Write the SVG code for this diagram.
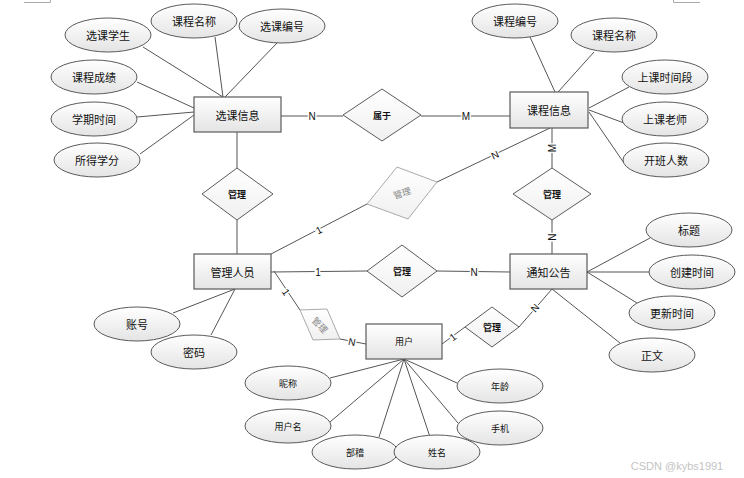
<svg xmlns="http://www.w3.org/2000/svg" width="744" height="478" viewBox="0 0 744 478">
<defs>
<linearGradient id="gf" x1="0" y1="0" x2="0" y2="1">
<stop offset="0" stop-color="#ffffff"/>
<stop offset="1" stop-color="#e4e4e4"/>
</linearGradient>
<linearGradient id="gd" x1="0" y1="0" x2="0" y2="1">
<stop offset="0" stop-color="#ffffff"/>
<stop offset="1" stop-color="#f0f0f0"/>
</linearGradient>
</defs>
<style>
text{font-family:"Noto Sans CJK SC","Liberation Sans",sans-serif;text-anchor:middle;dominant-baseline:central;fill:#111}
.ent rect{fill:url(#gf);stroke:#5a5a5a;stroke-width:1.2}
.att ellipse{fill:url(#gf);stroke:#5a5a5a;stroke-width:1}
.rel polygon{fill:url(#gd);stroke:#5a5a5a;stroke-width:1}
.grel polygon{fill:url(#gd);stroke:#aaaaaa;stroke-width:1}
.t1{font-size:11px}
.t2{font-size:9px;font-weight:bold}
.t3{font-size:9px}
.tg{font-size:9px;fill:#888}
#connectors line,#connectors polyline{stroke:#555;stroke-width:1;fill:none}
.lbl{font-family:"Liberation Sans",sans-serif;font-size:10px;fill:#111;stroke:#fff;stroke-width:3;paint-order:stroke}
.mark{stroke:#aaa;stroke-width:1;fill:none}
</style>
<rect x="0" y="0" width="744" height="478" fill="#ffffff"/>
<path class="mark" d="M24 2.5H50.5V0"/>
<path class="mark" d="M700 2.5H673.5V0"/>

<g id="connectors">
<line x1="143" y1="47" x2="223" y2="97"/>
<line x1="215" y1="37" x2="223" y2="97"/>
<line x1="277" y1="43" x2="225" y2="97"/>
<line x1="137" y1="82" x2="194" y2="108"/>
<line x1="137" y1="117" x2="194" y2="112"/>
<line x1="140" y1="154" x2="194" y2="115"/>
<line x1="530" y1="37" x2="555" y2="92"/>
<line x1="594" y1="52" x2="558" y2="92"/>
<line x1="629" y1="87" x2="589" y2="108"/>
<line x1="624" y1="123" x2="589" y2="110"/>
<line x1="624" y1="163" x2="589" y2="112"/>
<line x1="235" y1="289" x2="173" y2="313"/>
<line x1="235" y1="289" x2="211" y2="335"/>
<line x1="587" y1="272" x2="650" y2="238"/>
<line x1="587" y1="272" x2="649" y2="272"/>
<line x1="587" y1="272" x2="637" y2="303"/>
<line x1="552" y1="289" x2="620" y2="343"/>
<line x1="404" y1="359" x2="330" y2="378"/>
<line x1="404" y1="359" x2="330" y2="422"/>
<line x1="404" y1="359" x2="379" y2="437"/>
<line x1="404" y1="359" x2="430" y2="437"/>
<line x1="404" y1="359" x2="457" y2="383"/>
<line x1="404" y1="359" x2="458" y2="423"/>
<line x1="237" y1="132" x2="237" y2="168"/>
<line x1="237" y1="220" x2="237" y2="254"/>
<line x1="281" y1="116" x2="343" y2="116"/>
<line x1="421" y1="116" x2="510" y2="116"/>
<line x1="552" y1="128" x2="552" y2="168"/>
<line x1="552" y1="220" x2="552" y2="254"/>
<line x1="271" y1="254" x2="367" y2="204"/>
<line x1="437" y1="182" x2="550" y2="128"/>
<line x1="271" y1="272" x2="367" y2="271"/>
<line x1="437" y1="271" x2="510" y2="272"/>
<line x1="274" y1="271" x2="300" y2="310"/>
<line x1="340" y1="339" x2="366" y2="344"/>
<line x1="442" y1="344" x2="465" y2="327"/>
<line x1="519" y1="327" x2="552" y2="289"/>
<text class="lbl" x="312" y="116">N</text>
<text class="lbl" x="466" y="116">M</text>
<text class="lbl" x="552" y="148" transform="rotate(-90 552 148)">M</text>
<text class="lbl" x="552" y="237" transform="rotate(-90 552 237)">N</text>
<text class="lbl" x="319" y="230" transform="rotate(-27 319 230)">1</text>
<text class="lbl" x="495" y="155" transform="rotate(-25 495 155)">N</text>
<text class="lbl" x="318" y="272">1</text>
<text class="lbl" x="474" y="272">N</text>
<text class="lbl" x="286" y="292" transform="rotate(56 286 292)">1</text>
<text class="lbl" x="352" y="342" transform="rotate(11 352 342)">N</text>
<text class="lbl" x="453" y="337" transform="rotate(-36 453 337)">1</text>
<text class="lbl" x="535" y="308" transform="rotate(-49 535 308)">N</text>
</g>

<g id="e-xksx" class="att"><ellipse cx="108" cy="35" rx="43" ry="17"/><text class="t1" x="108" y="35">选课学生</text></g>
<g id="e-kcmc1" class="att"><ellipse cx="194" cy="21" rx="43" ry="17"/><text class="t1" x="194" y="21">课程名称</text></g>
<g id="e-xkbh" class="att"><ellipse cx="282" cy="26" rx="43" ry="17"/><text class="t1" x="282" y="26">选课编号</text></g>
<g id="e-kccj" class="att"><ellipse cx="94" cy="77" rx="43" ry="17"/><text class="t1" x="94" y="77">课程成绩</text></g>
<g id="e-xqsj" class="att"><ellipse cx="94" cy="119" rx="43" ry="17"/><text class="t1" x="94" y="119">学期时间</text></g>
<g id="e-sdxf" class="att"><ellipse cx="97" cy="160" rx="43" ry="17"/><text class="t1" x="97" y="160">所得学分</text></g>
<g id="e-kcbh" class="att"><ellipse cx="515" cy="21" rx="43" ry="17"/><text class="t1" x="515" y="21">课程编号</text></g>
<g id="e-kcmc2" class="att"><ellipse cx="614" cy="35" rx="43" ry="17"/><text class="t1" x="614" y="35">课程名称</text></g>
<g id="e-sksjd" class="att"><ellipse cx="665" cy="77" rx="43" ry="17"/><text class="t1" x="665" y="77">上课时间段</text></g>
<g id="e-sklS" class="att"><ellipse cx="665" cy="119" rx="43" ry="17"/><text class="t1" x="665" y="119">上课老师</text></g>
<g id="e-kbrs" class="att"><ellipse cx="666" cy="160" rx="43" ry="17"/><text class="t1" x="666" y="160">开班人数</text></g>
<g id="e-zh" class="att"><ellipse cx="137" cy="324" rx="43" ry="17"/><text class="t1" x="137" y="324">账号</text></g>
<g id="e-mm" class="att"><ellipse cx="194" cy="352" rx="43" ry="17"/><text class="t1" x="194" y="352">密码</text></g>
<g id="e-bt" class="att"><ellipse cx="689" cy="230" rx="43" ry="17"/><text class="t1" x="689" y="230">标题</text></g>
<g id="e-cjsj" class="att"><ellipse cx="692" cy="272" rx="43" ry="17"/><text class="t1" x="692" y="272">创建时间</text></g>
<g id="e-gxsj" class="att"><ellipse cx="672" cy="313" rx="43" ry="17"/><text class="t1" x="672" y="313">更新时间</text></g>
<g id="e-zw" class="att"><ellipse cx="652" cy="355" rx="43" ry="17"/><text class="t1" x="652" y="355">正文</text></g>
<g id="e-nc" class="att"><ellipse cx="288" cy="383" rx="43" ry="17"/><text class="t3" x="288" y="383">昵称</text></g>
<g id="e-yhm" class="att"><ellipse cx="288" cy="426" rx="43" ry="17"/><text class="t3" x="288" y="426">用户名</text></g>
<g id="e-bj" class="att"><ellipse cx="355" cy="452" rx="43" ry="17"/><text class="t3" x="355" y="452">部稽</text></g>
<g id="e-xm" class="att"><ellipse cx="437" cy="452" rx="43" ry="17"/><text class="t3" x="437" y="452">姓名</text></g>
<g id="e-nl" class="att"><ellipse cx="500" cy="386" rx="43" ry="17"/><text class="t3" x="500" y="386">年龄</text></g>
<g id="e-sj" class="att"><ellipse cx="500" cy="428" rx="43" ry="17"/><text class="t3" x="500" y="428">手机</text></g>

<g id="n-xkxx" class="ent"><rect x="194" y="97" width="87" height="35"/><text class="t1" x="237.5" y="114.5">选课信息</text></g>
<g id="n-kcxx" class="ent"><rect x="510" y="92" width="78" height="36"/><text class="t1" x="549" y="110">课程信息</text></g>
<g id="n-glry" class="ent"><rect x="194" y="254" width="77" height="35"/><text class="t1" x="232.5" y="271.5">管理人员</text></g>
<g id="n-tzgg" class="ent"><rect x="510" y="254" width="77" height="35"/><text class="t1" x="548.5" y="271.5">通知公告</text></g>
<g id="n-yh" class="ent"><rect x="366" y="324" width="76" height="35"/><text class="t3" x="404" y="341.5">用户</text></g>

<g id="r-sy" class="rel"><polygon points="343,115 382,89 421,115 382,141"/><text class="t2" x="382" y="115">属于</text></g>
<g id="r-gl1" class="rel"><polygon points="202,194 237,168 273,194 237,220"/><text class="t2" x="237" y="194">管理</text></g>
<g id="r-gl2" class="rel"><polygon points="513,194 552,168 591,194 552,220"/><text class="t2" x="552" y="194">管理</text></g>
<g id="r-gl3" class="rel"><polygon points="367,271 402,245 437,271 402,297"/><text class="t2" x="402" y="271">管理</text></g>
<g id="r-gl4" class="rel"><polygon points="465,327 492,307 519,327 492,347"/><text class="t2" x="492" y="327">管理</text></g>
<g id="r-gl5" class="grel"><polygon points="367,204 397,167 437,182 408,219"/><text class="tg" x="402" y="193" transform="rotate(-17 402 193)">管理</text></g>
<g id="r-gl6" class="grel"><polygon points="300,310 327,309 340,339 313,340"/><text class="tg" x="320" y="325" transform="rotate(48 320 325)">管理</text></g>

<text x="677" y="466" style="font-family:'Liberation Sans',sans-serif;font-size:11px;fill:#c4c4c4">CSDN @kybs1991</text>
</svg>
